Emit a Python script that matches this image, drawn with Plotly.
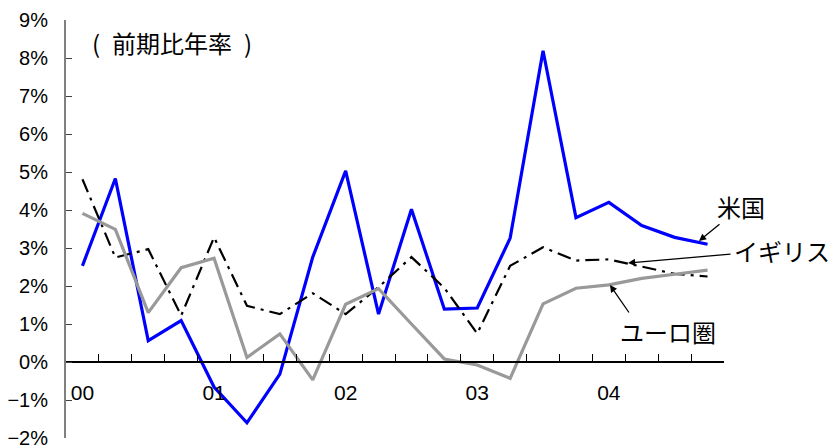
import plotly.graph_objects as go

quarters = [f"{y}Q{q}" for y in range(2000, 2005) for q in range(1, 5)]
idx = list(range(len(quarters)))
year_tick_pos = [0, 4, 8, 12, 16]
year_labels = ["00", "01", "02", "03", "04"]

us = [2.53, 4.83, 0.56, 1.09, -0.66, -1.6, -0.32, 2.76, 5.03, 1.26,
      4.02, 1.39, 1.42, 3.26, 8.19, 3.80, 4.20, 3.59, 3.28, 3.10]
uk = [4.81, 2.75, 2.97, 1.22, 3.28, 1.48, 1.26, 1.81, 1.26, 1.97,
      2.76, 1.95, 0.75, 2.53, 3.02, 2.67, 2.70, 2.50, 2.32, 2.25]
euro = [3.91, 3.49, 1.30, 2.48, 2.73, 0.12, 0.74, -0.47, 1.52, 1.93,
        1.00, 0.08, -0.08, -0.43, 1.53, 1.94, 2.03, 2.20, 2.31, 2.42]

y_min, y_max = -2, 9
x_pos = (0 - y_min) / (y_max - y_min)

FONT = "Arial, Liberation Sans, sans-serif"
CJK = "Noto Sans CJK JP, sans-serif"

fig = go.Figure()
fig.add_trace(go.Scatter(x=idx, y=us, mode="lines", name="米国",
                         line=dict(color="#0000FF", width=3.2)))
fig.add_trace(go.Scatter(x=idx, y=uk, mode="lines", name="イギリス",
                         line=dict(color="#000000", width=2.2, dash="14px,6px,3px,6px")))
fig.add_trace(go.Scatter(x=idx, y=euro, mode="lines", name="ユーロ圏", xaxis="x2",
                         line=dict(color="#999999", width=3.2)))

PW, PH = 658.0, 418.0  # plot area size in px (for domain-coordinate labels)


def px(xp, yp):
    return (xp - 66) / PW, (438 - yp) / PH


annos = []
for text, (cx, cy), anchor in [
    ("(\u2002前期比年率\u2002)", (90, 42), "left"),
    ("米国", (741, 206), "center"),
    ("イギリス", (782, 250), "center"),
    ("ユーロ圏", (668, 331), "center"),
]:
    xx, yy = px(cx, cy)
    annos.append(dict(text=text, x=xx, y=yy, xref="x domain", yref="y domain",
                      xanchor=anchor, yanchor="middle", showarrow=False,
                      font=dict(size=24, family=CJK, color="black")))

arrows = [
    ((699, 241), (721, 223)),
    ((628, 263), (732, 254)),
    ((610, 285), (630, 314)),
]
for head, tail in arrows:
    hx, hy = px(*head)
    tx, ty = px(*tail)
    annos.append(dict(text="", x=hx, y=hy, ax=tx, ay=ty,
                      axref="x domain", ayref="y domain",
                      xref="x domain", yref="y domain", showarrow=True, arrowhead=2,
                      arrowsize=1.1, arrowwidth=1.3, arrowcolor="black",
                      standoff=0, startstandoff=0))

fig.update_layout(
    width=833, height=445,
    margin=dict(l=66, r=109, t=20, b=7, autoexpand=False),
    paper_bgcolor="white", plot_bgcolor="white",
    showlegend=False,
    font=dict(family=FONT, size=21, color="black"),
    xaxis=dict(range=[-0.5, 19.5], tick0=-0.5, dtick=1, ticks="inside", ticklen=7,
               tickcolor="black", tickwidth=1, showticklabels=False, showline=True,
               linecolor="black", linewidth=1.5, showgrid=False, zeroline=False,
               anchor="free", position=x_pos, automargin=False),
    xaxis2=dict(range=[-0.5, 19.5], overlaying="x", matches="x", tickmode="array",
                tickvals=year_tick_pos, ticktext=year_labels, ticks="",
                showline=False, showgrid=False, zeroline=False,
                anchor="free", position=x_pos, side="bottom", automargin=False,
                ticklabelstandoff=16, tickfont=dict(size=21, family=FONT)),
    yaxis=dict(range=[y_min, y_max], dtick=1, ticksuffix="%", ticks="inside",
               ticklen=6, tickcolor="#404040", showline=True, linecolor="#808080",
               linewidth=2, showgrid=False, zeroline=False, ticklabeloverflow="allow",
               automargin=False,
               ticklabelstandoff=12, tickfont=dict(size=20, family=FONT)),
    annotations=annos,
)

fig.write_html("out.html")
